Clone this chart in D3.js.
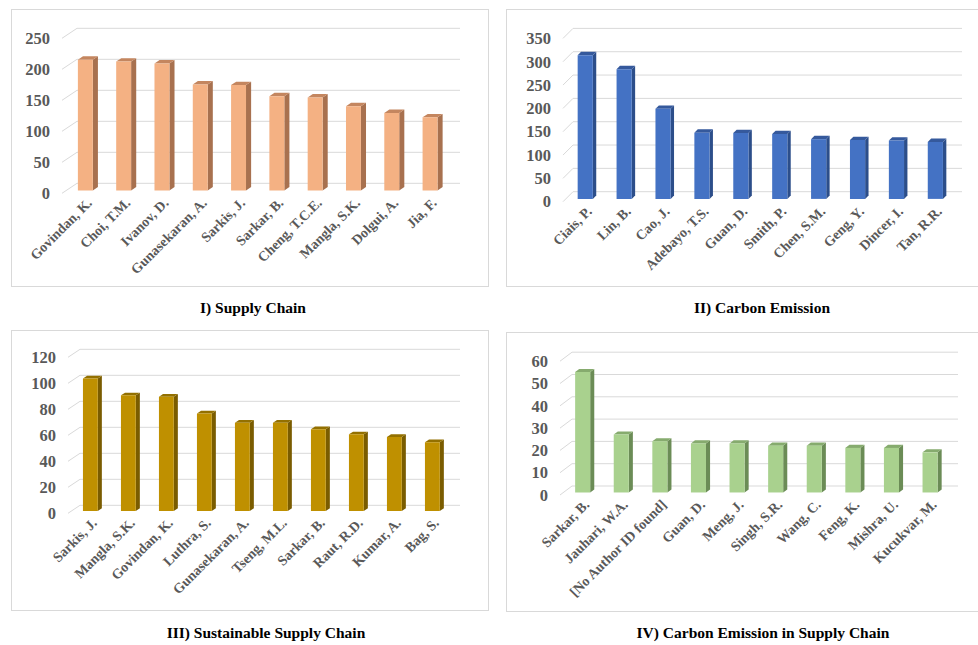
<!DOCTYPE html>
<html>
<head>
<meta charset="utf-8">
<script src="https://cdn.jsdelivr.net/npm/d3@7"></script>
<style>
  html, body { margin: 0; padding: 0; background: #fff; }
  svg { display: block; }
  text { font-family: "Liberation Serif", "Times New Roman", serif; font-weight: bold; }
</style>
</head>
<body>
<svg id="chart" width="978" height="645"></svg>
<script>
// Top authors by publication count in four research areas
const supplyAuthors = ["Govindan, K.", "Choi, T.M.", "Ivanov, D.", "Gunasekaran, A.", "Sarkis, J.", "Sarkar, B.", "Cheng, T.C.E.", "Mangla, S.K.", "Dolgui, A.", "Jia, F."];
const supplyValues = [211, 208, 205, 171, 170, 152, 150, 136, 125, 118];
const supplyTicks = [0, 50, 100, 150, 200, 250];

const carbonAuthors = ["Ciais, P.", "Lin, B.", "Cao, J.", "Adebayo, T.S.", "Guan, D.", "Smith, P.", "Chen, S.M.", "Geng, Y.", "Dincer, I.", "Tan, R.R."];
const carbonValues = [308, 278, 193, 142, 141, 139, 128, 126, 125, 122];
const carbonTicks = [0, 50, 100, 150, 200, 250, 300, 350];

const sustainAuthors = ["Sarkis, J.", "Mangla, S.K.", "Govindan, K.", "Luthra, S.", "Gunasekaran, A.", "Tseng, M.L.", "Sarkar, B.", "Raut, R.D.", "Kumar, A.", "Bag, S."];
const sustainValues = [102, 89, 88, 75, 68, 68, 63, 59, 57, 53];
const sustainTicks = [0, 20, 40, 60, 80, 100, 120];

const carbonSupplyAuthors = ["Sarkar, B.", "Jauhari, W.A.", "[No Author ID found]", "Guan, D.", "Meng, J.", "Singh, S.R.", "Wang, C.", "Feng, K.", "Mishra, U.", "Kucukvar, M."];
const carbonSupplyValues = [54, 26, 23, 22, 22, 21, 21, 20, 20, 18];
const carbonSupplyTicks = [0, 10, 20, 30, 40, 50, 60];

const titles = ["I) Supply Chain", "II) Carbon Emission", "III) Sustainable Supply Chain", "IV) Carbon Emission in Supply Chain"];

// Layout of each panel: frame, front plane of the plot, oblique depth offset, colours
const panels = [
  { cats: supplyAuthors, vals: supplyValues, ticks: supplyTicks, title: titles[0],
    frame: [11, 9, 477, 277], x0: 62, x1: 445, y0: 193.3, yTop: 38.3, dx: 15, dy: -10,
    titleX: 253, titleY: 308, face: "#F4B183", side: "#A8714F", top: "#C4865F" },
  { cats: carbonAuthors, vals: carbonValues, ticks: carbonTicks, title: titles[1],
    frame: [506, 9, 480, 277], x0: 563, x1: 952, y0: 201.7, yTop: 38.4, dx: 10, dy: -10,
    titleX: 762, titleY: 308, face: "#4472C4", side: "#2C4E8A", top: "#35599C" },
  { cats: sustainAuthors, vals: sustainValues, ticks: sustainTicks, title: titles[2],
    frame: [11, 330, 477, 280], x0: 68, x1: 448, y0: 513.3, yTop: 357.3, dx: 12, dy: -8,
    titleX: 266, titleY: 633, face: "#BF9000", side: "#7A5C00", top: "#937000" },
  { cats: carbonSupplyAuthors, vals: carbonSupplyValues, ticks: carbonSupplyTicks, title: titles[3],
    frame: [506, 332, 480, 279], x0: 560, x1: 946, y0: 495, yTop: 361.2, dx: 12, dy: -9,
    titleX: 763, titleY: 633, face: "#A9D18E", side: "#6B8C56", top: "#86AB6E" }
];

const svg = d3.select("#chart");
const BAR_FRONT = 0.28;   // depth of the bar's front face (0 = front plane, 1 = back wall)
const BAR_DEPTH = 0.34;   // bar thickness along the depth axis
const BAR_WIDTH = 0.39;   // share of the category band

panels.forEach(p => {
  const g = svg.append("g");

  g.append("rect")
    .attr("x", p.frame[0] + 0.5).attr("y", p.frame[1] + 0.5)
    .attr("width", p.frame[2]).attr("height", p.frame[3])
    .attr("fill", "#fff").attr("stroke", "#d9d9d9").attr("stroke-width", 1);

  const x = d3.scaleBand().domain(p.cats).range([p.x0, p.x1]);
  const yMax = d3.max(p.ticks);
  const y = d3.scaleLinear().domain([0, yMax]).range([p.y0, p.yTop]);

  // oblique projection of (category position, value, depth)
  const proj = (px, v, d) => [px + d * p.dx, y(v) + d * p.dy];

  // gridlines: side-wall diagonal plus back-wall horizontal
  const grid = g.append("g").attr("stroke", "#d9d9d9").attr("stroke-width", 1).attr("fill", "none");
  p.ticks.forEach(t => {
    const a = proj(p.x0, t, 0), b = proj(p.x0, t, 1), c = proj(p.x1, t, 1);
    grid.append("path").attr("d", `M${a[0]},${a[1]}L${b[0]},${b[1]}L${c[0]},${c[1]}`);
  });

  // value axis labels
  const yAxis = d3.axisLeft(y).tickValues(p.ticks).tickSize(0).tickPadding(12);
  const ay = g.append("g").attr("transform", `translate(${p.x0},0)`).call(yAxis);
  ay.select(".domain").remove();
  ay.selectAll("text")
    .attr("fill", "#595959")
    .style("font-size", "16.5px")
    .style("font-family", "'Liberation Serif', 'Times New Roman', serif")
    .style("font-weight", "bold");

  // 3D bars
  const bw = x.bandwidth() * BAR_WIDTH;
  const bars = g.append("g");
  p.cats.forEach((cat, i) => {
    const v = p.vals[i];
    const cx = x(cat) + x.bandwidth() / 2;
    const l = cx - bw / 2, r = cx + bw / 2;
    const f0 = BAR_FRONT, f1 = BAR_FRONT + BAR_DEPTH;
    const pt = (px, val, d) => proj(px, val, d).join(",");
    // side face
    bars.append("path")
      .attr("d", `M${pt(r, 0, f0)}L${pt(r, 0, f1)}L${pt(r, v, f1)}L${pt(r, v, f0)}Z`)
      .attr("fill", p.side);
    // top face
    bars.append("path")
      .attr("d", `M${pt(l, v, f0)}L${pt(r, v, f0)}L${pt(r, v, f1)}L${pt(l, v, f1)}Z`)
      .attr("fill", p.top);
    // front face
    bars.append("path")
      .attr("d", `M${pt(l, 0, f0)}L${pt(r, 0, f0)}L${pt(r, v, f0)}L${pt(l, v, f0)}Z`)
      .attr("fill", p.face);
  });

  // category labels, rotated
  g.append("g").selectAll("text").data(p.cats).join("text")
    .attr("transform", d => {
      const cx = x(d) + x.bandwidth() / 2 + BAR_FRONT * p.dx + 4;
      return `translate(${cx},${p.y0 + 7}) rotate(-45)`;
    })
    .attr("text-anchor", "end")
    .attr("dy", "0.35em")
    .attr("fill", "#595959")
    .style("font-size", "14px")
    .text(d => d);

  // panel caption
  g.append("text")
    .attr("x", p.titleX).attr("y", p.titleY)
    .attr("text-anchor", "middle")
    .attr("dy", "0.35em")
    .attr("fill", "#000")
    .style("font-size", "15.5px")
    .text(p.title);
});
</script>
</body>
</html>
